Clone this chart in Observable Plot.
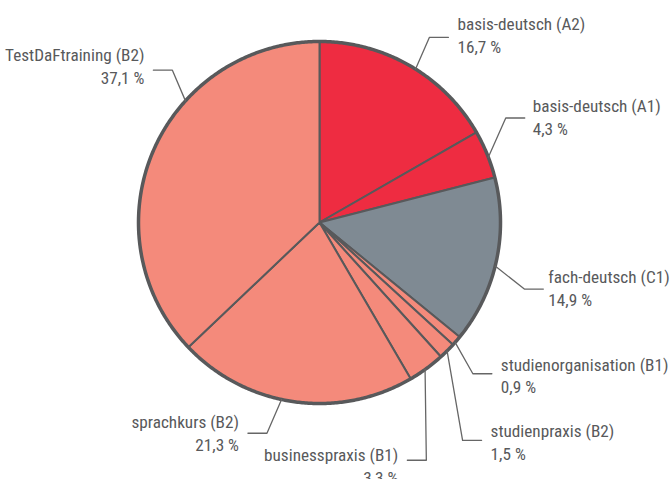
<!DOCTYPE html>
<html>
<head>
<meta charset="utf-8">
<script src="https://cdn.jsdelivr.net/npm/d3@7"></script>
<script src="https://cdn.jsdelivr.net/npm/@observablehq/plot@0.6"></script>
<style>
  html, body { margin: 0; padding: 0; background: #fff; }
</style>
</head>
<body>
<div id="chart"></div>
<script>
// ---- data ----
const categories = ["basis-deutsch (A2)", "basis-deutsch (A1)", "fach-deutsch (C1)", "studienorganisation (B1)", "studienpraxis (B2)", "businesspraxis (B1)", "sprachkurs (B2)", "TestDaFtraining (B2)"];
const shares = [16.7, 4.3, 14.9, 0.9, 1.5, 3.3, 21.3, 37.1];
const levels = ["A", "A", "C", "B", "B", "B", "B", "B"];
const levelDomain = ["A", "C", "B"];
const levelColors = ["#ee2c41", "#7f8a93", "#f48a7b"];

// ---- label layout (degrees clockwise from top, radius in pie units, gaps in px) ----
const labelLayout = [
  {offset: 2,  elbowAngle: 30.7,  elbowR: 1.19, side: 1,  dy: -3, gap: 9},
  {offset: 1,  elbowAngle: 60.7,  elbowR: 1.18, side: 1,  dy: -2, gap: 8},
  {offset: 1.5,elbowAngle: 108,   elbowR: 1.19, side: 1,  dy: -2, gap: 5},
  {offset: 0.6,elbowAngle: 134.6, elbowR: 1.19, side: 1,  dy: 1,  gap: 9},
  {offset: 0,  elbowAngle: 146.7, elbowR: 1.44, side: 1,  dy: 1,  gap: 9},
  {offset: 0.5,elbowAngle: 155.8, elbowR: 1.44, side: -1, dy: 5,  gap: 9},
  {offset: 4,  elbowAngle: 194,   elbowR: 1.2,  side: -1, dy: -1, gap: 9},
  {offset: 19, elbowAngle: 316,   elbowR: 1.17, side: -1, dy: -5, gap: 9}
];

const cx = 319, cy = 222, R = 181;
const px = 1 / R;              // one pixel in pie units
const ink = "#58595b";
const font = "'Roboto Condensed', Roboto, sans-serif";

const fmt = d3.formatLocale({decimal: ",", thousands: ".", grouping: [3], currency: ["", ""]}).format(".1f");

const total = d3.sum(shares);
const rad = a => a * Math.PI / 180;
const polar = (deg, r) => ({x: r * Math.sin(rad(deg)), y: r * Math.cos(rad(deg))});

// slices
let acc = 0;
const slices = categories.map((name, i) => {
  const a0 = acc / total * 360;
  acc += shares[i];
  const a1 = acc / total * 360;
  return {name, level: levels[i], share: shares[i], a0, a1, mid: (a0 + a1) / 2};
});

const slicePts = [];
for (const s of slices) {
  slicePts.push({name: s.name, level: s.level, x: 0, y: 0});
  const n = Math.max(2, Math.ceil((s.a1 - s.a0) / 0.5));
  for (let k = 0; k <= n; k++) {
    const p = polar(s.a0 + (s.a1 - s.a0) * k / n, 1);
    slicePts.push({name: s.name, level: s.level, ...p});
  }
}

const ringPts = d3.range(0, 360, 0.5).map(a => polar(a, 1));

// leaders + labels
const leaderPts = [];
const labels = [];
slices.forEach((s, i) => {
  const L = labelLayout[i];
  const p0 = polar(s.mid + L.offset, 1);
  const p1 = polar(L.elbowAngle, L.elbowR);
  const p2 = {x: p1.x + L.side * 19 * px, y: p1.y};
  leaderPts.push({name: s.name, ...p0}, {name: s.name, ...p1}, {name: s.name, ...p2});
  labels.push({
    x: p2.x + L.side * L.gap * px,
    y: p2.y,
    side: L.side,
    dy: L.dy,
    text: s.name + "\n" + fmt(s.share) + " %"
  });
});

const textOpts = {
  x: "x", y: "y", text: "text",
  fontSize: 17.2, lineHeight: 1.33, lineAnchor: "middle",
  fill: ink, fontFamily: font
};

const chart = Plot.plot({
  width: 672,
  height: 479,
  margin: 0,
  style: {background: "#fff", overflow: "visible"},
  x: {domain: [-1, 1], range: [cx - R, cx + R], axis: null},
  y: {domain: [-1, 1], range: [cy + R, cy - R], axis: null},
  color: {domain: levelDomain, range: levelColors},
  marks: [
    Plot.line(slicePts, {x: "x", y: "y", z: "name", fill: "level", stroke: ink, strokeWidth: 2, strokeLinejoin: "round", curve: "linear-closed"}),
    Plot.line(ringPts, {x: "x", y: "y", fill: "none", stroke: ink, strokeWidth: 3.5, curve: "linear-closed"}),
    Plot.line(leaderPts, {x: "x", y: "y", z: "name", stroke: "#666", strokeWidth: 1.3}),
    ...labels.map(l => Plot.text([l], {...textOpts, dy: l.dy, textAnchor: l.side > 0 ? "start" : "end"}))
  ]
});

document.getElementById("chart").appendChild(chart);
</script>
</body>
</html>
